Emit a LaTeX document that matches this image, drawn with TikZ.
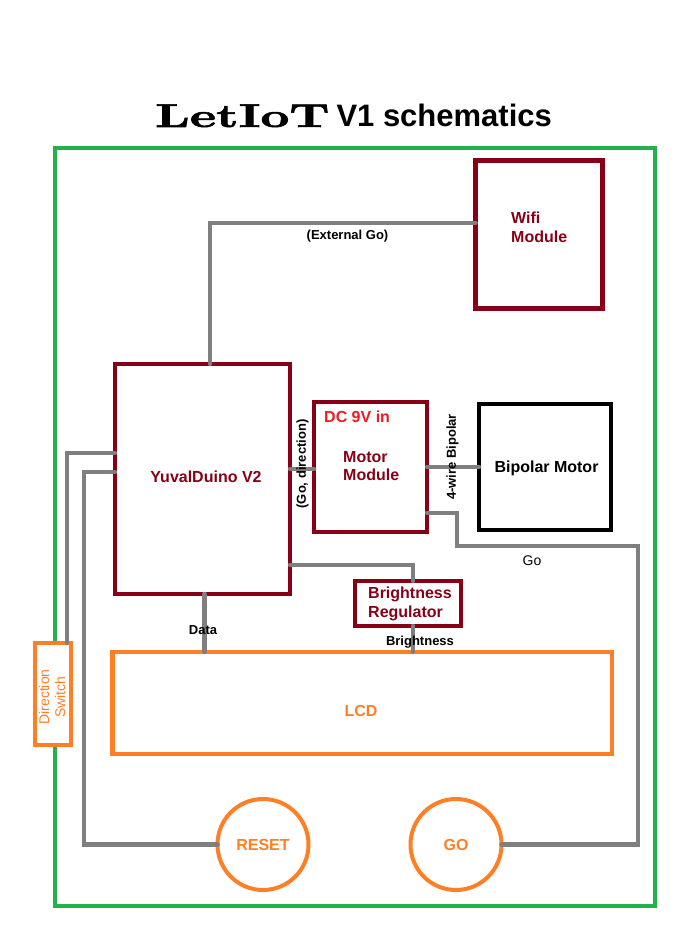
\documentclass[tikz,border=0pt]{standalone}
\usepackage{fontspec}
\newfontfamily\arial{Liberation Sans}
\newfontfamily\titleser{lmroman10-bold.otf}[FakeBold=1.6]
\definecolor{dkred}{HTML}{880015}
\definecolor{brred}{HTML}{ED1C24}
\definecolor{orng}{HTML}{FF7F27}
\definecolor{frgreen}{HTML}{22B14C}
\definecolor{wiregray}{HTML}{7F7F7F}
\newcommand\myBig{\arial\bfseries\fontsize{16}{19}\selectfont}
\newcommand\mySmall{\arial\bfseries\fontsize{13}{15}\selectfont}
\begin{document}
\begin{tikzpicture}[x=1pt,y=-1pt,
  box/.style={draw=dkred, line width=4.5pt, inner sep=0pt, outer sep=0pt},
  frame/.style={draw=frgreen, line width=4pt, inner sep=0pt, outer sep=0pt},
  obox/.style={draw=orng, line width=4.5pt, inner sep=0pt, outer sep=0pt},
  btn/.style={circle, draw=orng, line width=4pt, inner sep=0pt, outer sep=0pt, text=orng, font=\myBig},
  wire/.style={draw=wiregray, line width=4.5pt, line cap=round},
  bigtxt/.style={font=\myBig, text=dkred, inner sep=0pt},
  smalltxt/.style={font=\mySmall, text=black, inner sep=0pt},
]
\useasboundingbox (0,0) rectangle (700,933);
% title
\node[anchor=base, inner sep=0pt] (title) at (353.5,127)
  {{\titleser\fontsize{33}{38}\selectfont\scalebox{1.52}[1]{LetIoT}}\hspace{7pt}{\arial\bfseries\fontsize{31}{36}\selectfont V1 schematics}};
% frame
\node[frame, minimum width=600.5, minimum height=758] (frame) at (354.75,527) {};
% boxes
\node[box, minimum width=127, minimum height=148] (wifi) at (539,234.5) {};
\node[box, minimum width=175, minimum height=230] (yuval) at (202.5,479) {};
\node[box, minimum width=113, minimum height=130] (motor) at (370.5,467) {};
\node[box, draw=black, minimum width=132, minimum height=126] (bipolar) at (545,467) {};
\node[box, minimum width=106, minimum height=45] (breg) at (408,603.5) {};
\node[obox, minimum width=499.5, minimum height=102] (lcd) at (362.25,703) {};
\node[obox, fill=white, line width=4pt, minimum width=36, minimum height=102] (dsw) at (53,694) {};
\node[btn, minimum size=91] (reset) at (263,844.5) {RESET};
\node[btn, minimum size=91] (go) at (456,844.5) {GO};
% wires
\draw[wire] ([yshift=11.5pt]wifi.west) -| ([xshift=7.5pt]yuval.north);
\draw[wire] ([yshift=10pt]yuval.east) -- ([yshift=-2pt]motor.west);
\draw[wire] (motor.east) -- (bipolar.west);
\draw[wire] ([yshift=-46pt]motor.east) -- ++(30,0) -- ++(0,33) -- ++(181,0) |- (go.east);
\draw[wire] ([yshift=-86pt]yuval.east) -| ([xshift=5pt]breg.north);
\draw[wire] ([xshift=5pt]breg.south) -- ([xshift=5pt]breg.south |- lcd.north);
\draw[wire] ([xshift=2pt]yuval.south) -- ([xshift=2pt]yuval.south |- lcd.north);
\draw[wire] ([yshift=26pt]yuval.west) -| ([xshift=14pt]dsw.north);
\draw[wire] ([yshift=7pt]yuval.west) -- ++(-31,0) |- (reset.west);
% box texts
\node[bigtxt, anchor=base west] (wifit1) at (511,224) {Wifi};
\node[bigtxt, anchor=base west] (wifit2) at (511,243) {Module};
\node[bigtxt, anchor=base] (yuvalt) at (206,482) {YuvalDuino V2};
\node[bigtxt, text=brred, anchor=base west] (dct) at (324,422) {DC 9V in};
\node[bigtxt, anchor=base west] (motort1) at (343,462) {Motor};
\node[bigtxt, anchor=base west] (motort2) at (343,480) {Module};
\node[bigtxt, text=black, anchor=base] (bipt) at (546.5,472) {Bipolar Motor};
\node[bigtxt, anchor=base west] (bregt1) at (368,598) {Brightness};
\node[bigtxt, anchor=base west] (bregt2) at (368,617.5) {Regulator};
\node[bigtxt, text=orng, anchor=base] (lcdt) at (361,716) {LCD};
% wire labels
\node[smalltxt, anchor=base] (extgo) at (347.5,239) {(External Go)};
\node[smalltxt, rotate=90] (godir) at (302.5,464) {(Go, direction)};
\node[smalltxt, rotate=90] (fourw) at (452.5,457) {4-wire Bipolar};
\node[smalltxt, anchor=base] (datat) at (203,634) {Data};
\node[smalltxt, anchor=base] (brt) at (420,645) {Brightness};
\node[font=\arial\fontsize{14}{16}\selectfont, inner sep=0pt, anchor=base] (got) at (532,565) {Go};
\node[font=\arial\fontsize{14}{16}\selectfont, text=orng, inner sep=0pt, rotate=90, align=center] (dswt) at (52,697) {Direction\\Switch};
\end{tikzpicture}
\end{document}
